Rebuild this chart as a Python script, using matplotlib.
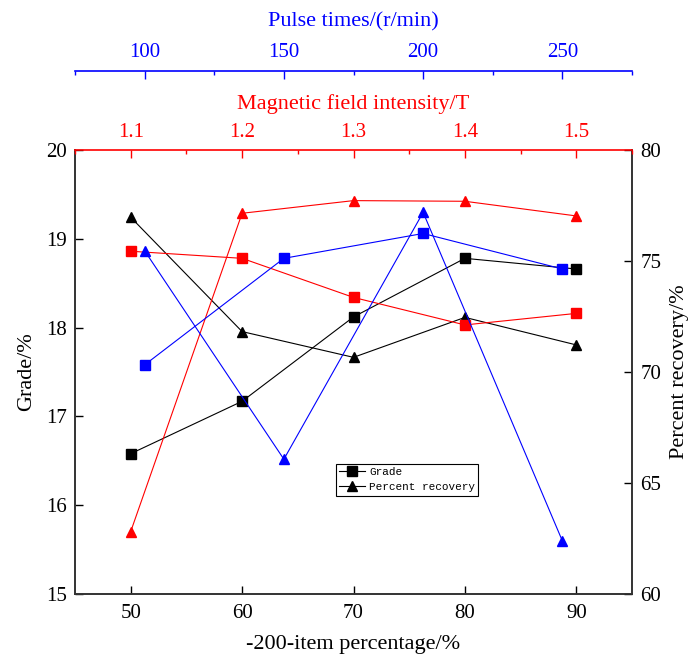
import numpy as np
import matplotlib.pyplot as plt
from matplotlib.ticker import MultipleLocator

plt.rcParams['font.family'] = ['Liberation Serif', 'DejaVu Serif']
plt.rcParams['font.size'] = 15

# -200 mesh percentage series (black)
size_pct = [50, 60, 70, 80, 90]
grade_size = [16.58, 17.17, 18.12, 18.78, 18.66]
rec_size = [76.97, 71.82, 70.66, 72.46, 71.22]

# magnetic field intensity series (red)
field = [1.1, 1.2, 1.3, 1.4, 1.5]
grade_field = [18.86, 18.78, 18.34, 18.03, 18.16]
rec_field = [62.81, 77.15, 77.72, 77.69, 77.03]

# pulse times series (blue)
pulse = [100, 150, 200, 250]
grade_pulse = [17.58, 18.78, 19.06, 18.66]
rec_pulse = [75.46, 66.07, 77.19, 62.39]

spine_c = '#333333'
lw = 0.8
lab_fs = 16

fig = plt.figure(figsize=(6.88, 6.57), dpi=100)
ax = fig.add_axes([75/688, 63/657, 557/688, 444/657])
ax_r = ax.twinx()
ax_mag = ax.twiny()
ax_mag_r = ax_mag.twinx()
ax_pul = ax.twiny()
ax_pul_r = ax_pul.twinx()

# main axes
ax.set_xlim(45, 95)
ax.set_ylim(15, 20)
ax.set_xticks(size_pct)
ax.set_yticks([15, 16, 17, 18, 19, 20])
ax_r.set_ylim(60, 80)
ax_r.set_yticks([60, 65, 70, 75, 80])
ax.set_xlabel('-200-item percentage/%', fontsize=lab_fs, labelpad=8)
ax.set_ylabel('Grade/%', fontsize=lab_fs, labelpad=7)
ax_r.set_ylabel('Percent recovery/%', fontsize=lab_fs, labelpad=6)

for a in (ax, ax_r):
    a.tick_params(direction='in', length=5.5, width=1, pad=6, colors='black')
    for s in a.spines.values():
        s.set_color(spine_c)
        s.set_linewidth(1.2)
ax.tick_params(axis='x', pad=7.5)
ax.spines['top'].set_visible(False)
ax_r.spines['top'].set_visible(False)

# magnetic field axis (red, top)
ax_mag.set_xlim(1.05, 1.55)
ax_mag.set_xticks(field)
ax_mag.xaxis.set_minor_locator(MultipleLocator(0.05))
ax_mag.tick_params(axis='x', which='both', direction='in', colors='red', width=1, pad=6)
ax_mag.tick_params(axis='x', which='major', length=5.5)
ax_mag.tick_params(axis='x', which='minor', length=3)
ax_mag.set_xlabel('Magnetic field intensity/T', color='red', fontsize=lab_fs, labelpad=10)
for k, s in ax_mag.spines.items():
    s.set_visible(k == 'top')
ax_mag.spines['top'].set_color('red')
ax_mag.spines['top'].set_linewidth(1.2)
ax_mag_r.set_ylim(60, 80)
ax_mag_r.axis('off')

# pulse times axis (blue, offset top)
ax_pul.set_xlim(75, 275)
ax_pul.set_xticks(pulse)
ax_pul.xaxis.set_minor_locator(MultipleLocator(25))
ax_pul.tick_params(axis='x', which='both', direction='in', colors='blue', width=1, pad=6)
ax_pul.tick_params(axis='x', which='major', length=5.5)
ax_pul.tick_params(axis='x', which='minor', length=3)
ax_pul.set_xlabel('Pulse times/(r/min)', color='blue', fontsize=lab_fs, labelpad=12)
for k, s in ax_pul.spines.items():
    s.set_visible(k == 'top')
ax_pul.spines['top'].set_position(('axes', 1 + 79.3/444))
ax_pul.spines['top'].set_color('blue')
ax_pul.spines['top'].set_linewidth(1.2)
ax_pul_r.set_ylim(60, 80)
ax_pul_r.axis('off')

# data lines
sq = dict(marker='s', ms=6.5, lw=lw)
tri = dict(marker='^', ms=7.5, lw=lw)
l1, = ax.plot(size_pct, grade_size, color='black', label='Grade', **sq)
l2, = ax_r.plot(size_pct, rec_size, color='black', label='Percent recovery', **tri)
ax_mag.plot(field, grade_field, color='red', **sq)
ax_mag_r.plot(field, rec_field, color='red', **tri)
ax_pul.plot(pulse, grade_pulse, color='blue', **sq)
ax_pul_r.plot(pulse, rec_pulse, color='blue', **tri)

leg = fig.legend([l1, l2], ['Grade', 'Percent recovery'], loc='upper left',
                 bbox_to_anchor=(336/688, 1 - 464/657), prop={'family': 'Liberation Mono', 'size': 7.9},
                 fancybox=False, framealpha=1, edgecolor='black', borderpad=0.3,
                 handlelength=2.3, handletextpad=0.4, labelspacing=0.45, borderaxespad=0)
leg.get_frame().set_linewidth(0.8)
for h in leg.legend_handles:
    h.set_markersize(6.5)

fig.savefig('out.png', dpi=100)
